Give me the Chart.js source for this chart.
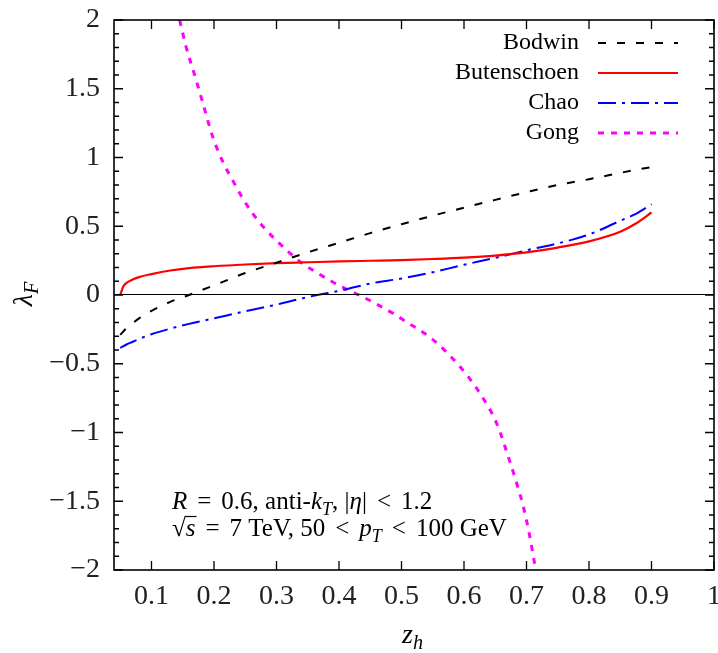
<!DOCTYPE html>
<html>
<head>
<meta charset="utf-8">
<script src="https://cdn.jsdelivr.net/npm/chart.js@4.4.1/dist/chart.umd.min.js"></script>
<style>
  html, body { margin: 0; padding: 0; background: #fff; }
  #wrap { width: 718px; height: 653px; }
</style>
</head>
<body>
<div id="wrap"><canvas id="chart" width="718" height="653"></canvas></div>
<script>
// z_h grid shared by the three smooth curves
const zGrid = [0.05, 0.055, 0.06, 0.07, 0.08, 0.1, 0.13, 0.16, 0.2, 0.25, 0.3, 0.35, 0.4, 0.45, 0.5, 0.55, 0.6, 0.65, 0.7, 0.75, 0.8, 0.85, 0.875, 0.9];
const bodwin = [-0.29, -0.265, -0.24, -0.205, -0.17, -0.115, -0.05, 0.0, 0.07, 0.16, 0.235, 0.31, 0.38, 0.45, 0.515, 0.577, 0.635, 0.692, 0.748, 0.8, 0.842, 0.888, 0.91, 0.93];
const butenschoen = [0.0, 0.063, 0.088, 0.112, 0.13, 0.152, 0.178, 0.195, 0.209, 0.222, 0.232, 0.238, 0.244, 0.249, 0.254, 0.262, 0.272, 0.287, 0.31, 0.345, 0.39, 0.46, 0.52, 0.6];
const chao = [-0.385, -0.372, -0.36, -0.34, -0.32, -0.285, -0.245, -0.21, -0.17, -0.118, -0.07, -0.015, 0.03, 0.083, 0.12, 0.165, 0.22, 0.27, 0.325, 0.375, 0.44, 0.54, 0.59, 0.66];

const gongZ = [0.145, 0.155, 0.169, 0.18, 0.198, 0.215, 0.228, 0.245, 0.26, 0.28, 0.305, 0.337, 0.36, 0.39, 0.41, 0.433, 0.46, 0.487, 0.508, 0.545, 0.577, 0.607, 0.631, 0.652, 0.674, 0.685, 0.695, 0.705, 0.714];
const gong = [2.0, 1.81, 1.6, 1.43, 1.15, 0.96, 0.85, 0.71, 0.604, 0.49, 0.374, 0.245, 0.175, 0.095, 0.047, -0.002, -0.066, -0.135, -0.196, -0.305, -0.439, -0.596, -0.754, -0.93, -1.22, -1.38, -1.54, -1.75, -1.98];

const xTicks = [0.1, 0.2, 0.3, 0.4, 0.5, 0.6, 0.7, 0.8, 0.9, 1];
const yTicks = [-2, -1.5, -1, -0.5, 0, 0.5, 1, 1.5, 2];
const yMinorStep = 0.1;

const seriesNames = ['Bodwin', 'Butenschoen', 'Chao', 'Gong'];
const seriesColors = ['#000000', '#ff0000', '#0000ff', '#ff00ff'];
const seriesDash = [[8, 11], [], [18, 6, 3, 6], [6, 7]];
const seriesWidth = [2, 2.2, 2, 3];

const SERIF = '"Liberation Serif", "DejaVu Serif", serif';

function pts(xs, ys) {
    return xs.map((x, i) => ({ x: x, y: ys[i] }));
}

function fmt(v) {
    return v < 0 ? '\u2212' + Math.abs(v) : String(v);
}

// draw a run of text pieces (italic / subscript / overline / extra gap)
function drawRuns(ctx, x, y, runs, size) {
    runs.forEach(r => {
        if (r.gap) { x += r.gap; return; }
        const fs = r.sub ? size * 0.72 : size;
        ctx.font = (r.it ? 'italic ' : '') + fs + 'px ' + SERIF;
        const dy = r.sub ? size * 0.22 : 0;
        ctx.fillText(r.t, x, y + dy);
        const w = ctx.measureText(r.t).width;
        if (r.over) {
            ctx.beginPath();
            ctx.lineWidth = 1.2;
            ctx.moveTo(x - 1, y - size * 0.78);
            ctx.lineTo(x + w + 1, y - size * 0.78);
            ctx.stroke();
        }
        x += w;
    });
    return x;
}

function runsWidth(ctx, runs, size) {
    let w = 0;
    runs.forEach(r => {
        if (r.gap) { w += r.gap; return; }
        const fs = r.sub ? size * 0.72 : size;
        ctx.font = (r.it ? 'italic ' : '') + fs + 'px ' + SERIF;
        w += ctx.measureText(r.t).width;
    });
    return w;
}

const G = { gap: 10 };

const framePlugin = {
    id: 'frame',
    afterDraw(chart) {
        const ctx = chart.ctx;
        const a = chart.chartArea;
        const xs = chart.scales.x, ys = chart.scales.y;
        ctx.save();
        ctx.strokeStyle = '#000';
        ctx.fillStyle = '#000';

        // zero line
        const y0 = Math.round(ys.getPixelForValue(0)) - 0.5;
        ctx.lineWidth = 1;
        ctx.beginPath();
        ctx.moveTo(a.left, y0);
        ctx.lineTo(a.right, y0);
        ctx.stroke();

        // inward ticks
        ctx.lineWidth = 1.3;
        ctx.beginPath();
        xTicks.forEach(v => {
            const px = xs.getPixelForValue(v);
            ctx.moveTo(px, a.bottom); ctx.lineTo(px, a.bottom - 9);
            ctx.moveTo(px, a.top); ctx.lineTo(px, a.top + 9);
        });
        for (let k = -20; k <= 20; k++) {
            const v = k * yMinorStep;
            const py = ys.getPixelForValue(v);
            const len = (k % 5 === 0) ? 9 : 5;
            ctx.moveTo(a.left, py); ctx.lineTo(a.left + len, py);
            ctx.moveTo(a.right, py); ctx.lineTo(a.right - len, py);
        }
        ctx.stroke();

        // frame
        ctx.lineWidth = 1.6;
        ctx.strokeRect(a.left, a.top, a.right - a.left, a.bottom - a.top);

        // legend
        ctx.textBaseline = 'middle';
        ctx.textAlign = 'right';
        ctx.font = '24px ' + SERIF;
        seriesNames.forEach((name, i) => {
            const ry = 43 + i * 30;
            ctx.fillStyle = '#000';
            ctx.fillText(name, 579, ry);
            ctx.save();
            ctx.strokeStyle = seriesColors[i];
            ctx.lineWidth = seriesWidth[i];
            ctx.setLineDash(seriesDash[i]);
            ctx.beginPath();
            ctx.moveTo(598, ry);
            ctx.lineTo(678, ry);
            ctx.stroke();
            ctx.restore();
        });

        // annotation
        ctx.textAlign = 'left';
        ctx.textBaseline = 'alphabetic';
        ctx.fillStyle = '#000';
        ctx.strokeStyle = '#000';
        drawRuns(ctx, 172, 509, [
            { t: 'R', it: true }, G, { t: '=' }, G, { t: '0.6, anti-' }, { t: 'k', it: true }, { t: 'T', it: true, sub: true },
            { t: ', |' }, { t: '\u03b7', it: true }, { t: '|' }, G, { t: '<' }, G, { t: '1.2' }
        ], 25);
        drawRuns(ctx, 172, 536, [
            { t: '\u221a' }, { t: 's', it: true, over: true }, G, { t: '=' }, G, { t: '7 TeV, 50' }, G, { t: '<' }, G,
            { t: 'p', it: true }, { t: 'T', it: true, sub: true }, G, { t: '<' }, G, { t: '100 GeV' }
        ], 25);

        // x title
        drawRuns(ctx, 402, 643, [{ t: 'z', it: true }, { t: 'h', it: true, sub: true }], 28);

        // y title, rotated
        const yRuns = [{ t: '\u03bb', it: true }, { t: 'F', it: true, sub: true }];
        const w = runsWidth(ctx, yRuns, 28);
        ctx.save();
        ctx.translate(32, 294);
        ctx.rotate(-Math.PI / 2);
        drawRuns(ctx, -w / 2, 0, yRuns, 28);
        ctx.restore();

        ctx.restore();
    }
};

const datasets = [
    pts(zGrid, bodwin), pts(zGrid, butenschoen), pts(zGrid, chao), pts(gongZ, gong)
].map((data, i) => ({
    label: seriesNames[i],
    data: data,
    showLine: true,
    borderColor: seriesColors[i],
    borderWidth: seriesWidth[i],
    borderDash: seriesDash[i],
    pointRadius: 0,
    fill: false,
    cubicInterpolationMode: 'monotone'
}));

new Chart(document.getElementById('chart').getContext('2d'), {
    type: 'scatter',
    data: { datasets: datasets },
    options: {
        responsive: false,
        animation: false,
        events: [],
        layout: { padding: { left: 0, top: 20, right: 4, bottom: 0 } },
        plugins: {
            legend: { display: false },
            tooltip: { enabled: false }
        },
        scales: {
            x: {
                type: 'linear',
                min: 0.04,
                max: 1,
                afterBuildTicks: s => { s.ticks = xTicks.map(v => ({ value: v })); },
                afterFit: s => { s.height = 83; s.paddingLeft = 0; s.paddingRight = 0; },
                grid: { display: false, drawTicks: false },
                border: { display: false },
                ticks: {
                    color: '#222',
                    padding: 10,
                    maxRotation: 0,
                    autoSkip: false,
                    font: { family: SERIF, size: 28 },
                    callback: v => fmt(v)
                }
            },
            y: {
                type: 'linear',
                min: -2,
                max: 2,
                afterBuildTicks: s => { s.ticks = yTicks.map(v => ({ value: v })); },
                afterFit: s => { s.width = 114; s.paddingTop = 0; s.paddingBottom = 0; },
                grid: { display: false, drawTicks: false },
                border: { display: false },
                ticks: {
                    color: '#222',
                    padding: 14,
                    autoSkip: false,
                    font: { family: SERIF, size: 28 },
                    callback: v => fmt(v)
                }
            }
        }
    },
    plugins: [framePlugin]
});
</script>
</body>
</html>
